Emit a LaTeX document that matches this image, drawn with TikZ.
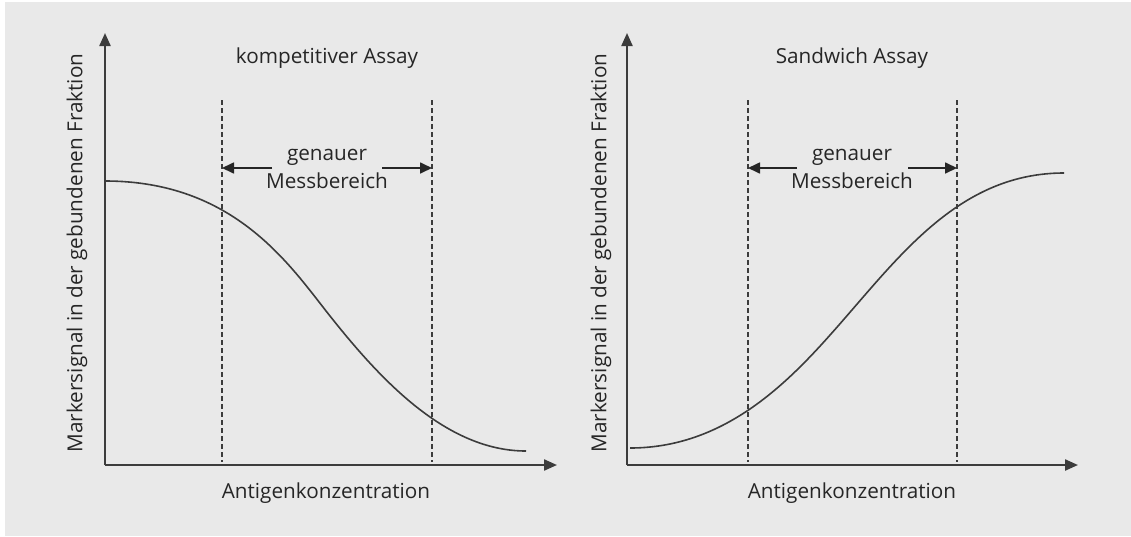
\documentclass[tikz,border=0pt]{standalone}
\usepackage{fontspec}
\setmainfont{Open Sans}
\usetikzlibrary{arrows.meta}
\definecolor{bgc}{HTML}{E9E9E9}
\definecolor{ink}{HTML}{262626}
\definecolor{linec}{HTML}{3C3C3C}
\begin{document}
\begin{tikzpicture}[x=1pt,y=-1pt,
  axis/.style={line width=2.2pt,draw=linec,-{Triangle[length=13pt,width=11pt]}},
  curve/.style={line width=1.6pt,draw=linec},
  rangeline/.style={line width=1.7pt,draw=linec,dash pattern=on 4.5pt off 3.5pt},
  rangearrow/.style={line width=1.7pt,draw=ink,-{Triangle[length=12pt,width=11pt]}},
  lbl/.style={text=ink,font=\fontsize{20.7}{24}\selectfont,inner sep=0pt},
  twoline/.style={lbl,align=center,font=\fontsize{20.7}{28}\selectfont}]
\useasboundingbox (0,0) rectangle (1131,536);
\fill[bgc] (5,2) rectangle (1131,536);

% ---------- left plot ----------
\coordinate (Lo) at (105,465);
\coordinate (Ly) at (105,33);
\coordinate (Lx) at (557,465);
\draw[axis] (Lo) -- (Ly);
\draw[axis] (Lo) -- (Lx);
\coordinate (La1) at (222,100); \coordinate (La2) at (222,462);
\coordinate (Lb1) at (432,100); \coordinate (Lb2) at (432,462);
\draw[rangeline] (La1) -- (La2);
\draw[rangeline] (Lb1) -- (Lb2);
\node[lbl] (Ltitle) at (327,58) {kompetitiver Assay};
\node[twoline] (Lrange) at (327,169) {genauer\\Messbereich};
\coordinate (Lal) at (272,168); \coordinate (Lat) at (222,168);
\coordinate (Lbl) at (382,168); \coordinate (Lbt) at (432,168);
\draw[rangearrow] (Lal) -- (Lat);
\draw[rangearrow] (Lbl) -- (Lbt);
\coordinate (Lc0) at (105,181);
\coordinate (Lcm) at (330,316);
\coordinate (Lc1) at (526,451);
\draw[curve] (Lc0) .. controls (235,181) and (290,265.6) .. (Lcm)
  .. controls (380,379) and (446,451) .. (Lc1);
\node[lbl] (Lxlabel) at (326,493) {Antigenkonzentration};
\node[lbl,rotate=90] (Lylabel) at (77,253) {Markersignal in der gebundenen Fraktion};

% ---------- right plot ----------
\coordinate (Ro) at (627,465);
\coordinate (Ry) at (627,33);
\coordinate (Rx) at (1078,465);
\draw[axis] (Ro) -- (Ry);
\draw[axis] (Ro) -- (Rx);
\coordinate (Ra1) at (748,100); \coordinate (Ra2) at (748,462);
\coordinate (Rb1) at (957,100); \coordinate (Rb2) at (957,462);
\draw[rangeline] (Ra1) -- (Ra2);
\draw[rangeline] (Rb1) -- (Rb2);
\node[lbl] (Rtitle) at (852,58) {Sandwich Assay};
\node[twoline] (Rrange) at (852,169) {genauer\\Messbereich};
\coordinate (Ral) at (797,168); \coordinate (Rat) at (748,168);
\coordinate (Rbl) at (908,168); \coordinate (Rbt) at (957,168);
\draw[rangearrow] (Ral) -- (Rat);
\draw[rangearrow] (Rbl) -- (Rbt);
\coordinate (Rc0) at (630,448);
\coordinate (Rcm) at (845,318);
\coordinate (Rc1) at (1064,173);
\draw[curve] (Rc0) .. controls (730,448) and (795,375.5) .. (Rcm)
  .. controls (905,249) and (964,173) .. (Rc1);
\node[lbl] (Rxlabel) at (852,493) {Antigenkonzentration};
\node[lbl,rotate=90] (Rylabel) at (601,253) {Markersignal in der gebundenen Fraktion};
\end{tikzpicture}
\end{document}
